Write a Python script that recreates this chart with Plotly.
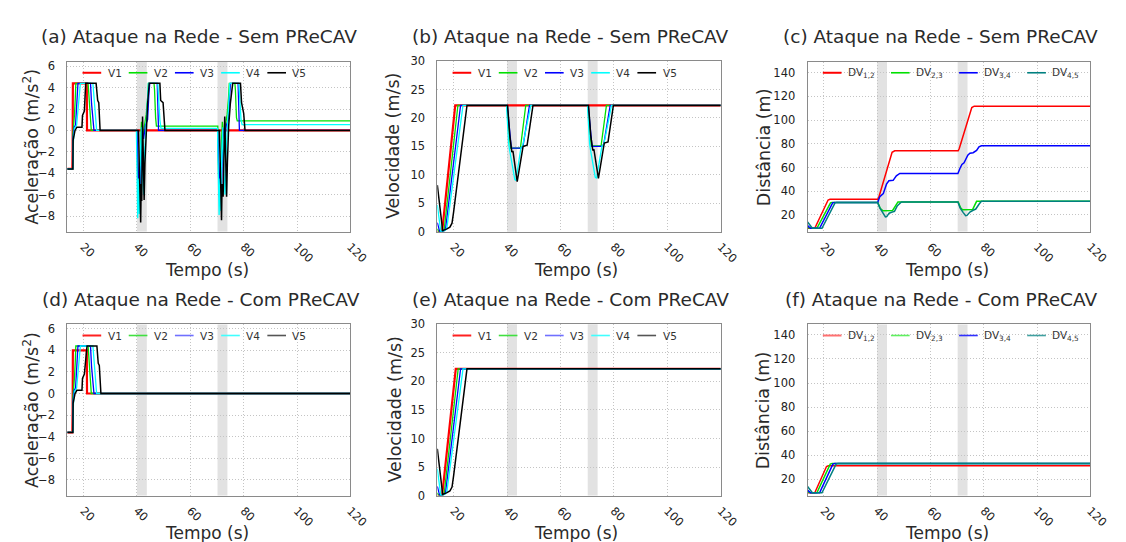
import plotly.graph_objects as go

W, H = 1126, 542

# ---------------- data ----------------
TIME_RANGE = [13.9, 120.0]
TIME_TICKS = [20, 40, 60, 80, 100, 120]
ATTACK_WINDOWS = [[40.0, 43.7], [70.2, 73.9]]

VEHICLES = ["V1", "V2", "V3", "V4", "V5"]
GAPS = ["DV<sub>1,2</sub>", "DV<sub>2,3</sub>", "DV<sub>3,4</sub>", "DV<sub>4,5</sub>"]

PANEL_TITLES = ["(a) Ataque na Rede - Sem PReCAV", "(b) Ataque na Rede - Sem PReCAV",
                "(c) Ataque na Rede - Sem PReCAV", "(d) Ataque na Rede - Com PReCAV",
                "(e) Ataque na Rede - Com PReCAV", "(f) Ataque na Rede - Com PReCAV"]
Y_TITLES = ["Aceleração (m/s<sup>2</sup>)", "Velocidade (m/s)", "Distância (m)"]
X_TITLE = "Tempo (s)"

ACC_TICKS = [-8, -6, -4, -2, 0, 2, 4, 6]
VEL_TICKS = [0, 5, 10, 15, 20, 25, 30]
DIST_TICKS = [20, 40, 60, 80, 100, 120, 140]

# (a) acceleration, without PReCAV
A_SEM_V1_T = [13.9, 15.8, 15.9, 16.0, 21.2, 21.3, 120.0]
A_SEM_V1_A = [-3.6, -3.6, -1.6, 4.4, 4.4, 0.0, 0.0]
A_SEM_V2_T = [13.9, 15.9, 16.0, 16.3, 16.6, 16.9, 17.1, 21.7, 22.3, 22.9,
              40.0, 40.1, 40.4, 40.7, 41.1, 41.4, 41.7, 42.2, 42.8, 43.5, 44.0, 44.3, 46.4, 46.6, 47.0, 47.3,
              70.3, 70.4, 70.7, 71.0, 71.4, 71.7, 72.0, 72.5, 73.1, 73.8, 74.3, 74.6, 76.7, 76.9, 77.3, 77.6, 120.0]
A_SEM_V2_A = [-3.6, -3.6, -0.4, 0.3, 1.5, 3.0, 4.4, 4.4, 2.0, 0.0,
              0.0, -2.0, -5.8, -4.0, -6.0, -1.0, 0.8, -0.5, 0.6, 1.5, 3.0, 4.4, 4.4, 3.8, 1.2, 0.4,
              0.4, -2.0, -5.8, -4.0, -6.0, -1.0, 0.8, -0.5, 0.6, 1.5, 3.0, 4.4, 4.4, 3.8, 1.2, 0.9, 0.9]
A_SEM_V3_T = [13.9, 15.9, 16.1, 16.5, 17.0, 17.3, 17.6, 17.9, 22.6, 23.0, 23.9,
              40.0, 40.2, 40.6, 41.0, 41.4, 41.9, 42.5, 43.2, 44.0, 44.5, 44.8, 47.6, 47.9, 48.1,
              70.3, 70.5, 70.9, 71.3, 71.7, 72.2, 72.8, 73.5, 74.3, 74.8, 75.1, 77.9, 78.2, 78.4, 120.0]
A_SEM_V3_A = [-3.6, -3.6, -0.6, 0.3, 0.5, 2.0, 3.2, 4.4, 4.4, 2.5, 0.0,
              0.0, -1.5, -6.2, -3.0, -5.5, 0.2, -0.8, 0.5, 1.0, 3.5, 4.4, 4.4, 1.0, 0.0,
              0.0, -1.5, -6.2, -3.0, -5.5, 0.2, -0.8, 0.5, 1.0, 3.5, 4.4, 4.4, 1.0, 0.0, 0.0]
A_SEM_V4_T = [13.9, 16.0, 16.2, 16.6, 17.4, 17.8, 18.3, 18.8, 23.5, 24.0, 24.9,
              39.8, 40.0, 40.3, 40.6, 40.9, 41.3, 41.7, 42.0, 42.5, 42.9, 43.4, 43.8, 44.3, 47.8, 48.2, 48.6, 49.0,
              70.2, 70.4, 70.8, 71.1, 71.4, 71.8, 72.2, 72.5, 73.0, 73.4, 73.9, 74.3, 74.8, 78.2, 78.6, 79.0, 79.4, 120.0]
A_SEM_V4_A = [-3.6, -3.6, -1.0, 0.2, 0.5, 1.5, 2.8, 4.4, 4.4, 2.8, 0.0,
              0.0, -3.0, -8.2, -4.5, -7.8, -2.0, 0.3, -4.0, -6.0, -2.0, 0.2, 2.0, 4.4, 4.4, 2.5, 1.0, 0.2,
              0.2, -3.0, -7.9, -4.5, -7.5, -2.0, 0.3, -4.0, -6.0, -2.0, 0.2, 2.0, 4.4, 4.4, 2.5, 1.0, 0.55, 0.55]
A_SEM_V5_T = [13.9, 16.0, 16.1, 16.8, 17.5, 19.4, 19.6, 20.3, 20.8, 24.7, 25.3, 25.7, 26.2,
              40.6, 40.9, 41.4, 41.6, 41.8, 42.1, 42.4, 42.7, 43.0, 43.5, 44.0, 44.6, 48.6, 48.9, 49.8, 50.5,
              70.9, 71.2, 71.7, 71.9, 72.3, 72.9, 73.2, 73.6, 73.9, 74.4, 75.0, 75.9, 78.8, 79.2, 80.0, 80.5, 120.0]
A_SEM_V5_A = [-3.6, -3.6, -0.9, 0.0, 0.3, 0.3, 1.4, 1.8, 4.4, 4.4, 2.8, 2.6, 0.0,
              0.0, -3.5, -8.6, -5.0, -6.6, 1.3, -2.0, -6.5, -3.0, 0.5, 2.5, 4.4, 4.4, 2.8, 2.6, 0.0,
              0.0, -3.0, -8.4, -5.0, -6.2, 1.3, -1.5, -6.2, -3.0, 0.5, 2.5, 4.4, 4.4, 2.6, 1.6, 0.0, 0.0]

# (d) acceleration, with PReCAV
A_COM_V1_T = [13.9, 15.8, 15.9, 16.0, 21.2, 21.3, 120.0]
A_COM_V1_A = [-3.6, -3.6, -1.6, 4.0, 4.0, 0.0, 0.0]
A_COM_V2_T = [13.9, 15.9, 16.0, 16.3, 16.6, 16.9, 17.1, 21.7, 22.3, 22.9, 120.0]
A_COM_V2_A = [-3.6, -3.6, -0.4, 0.3, 1.5, 3.0, 4.4, 4.4, 2.0, 0.0, 0.0]
A_COM_V3_T = [13.9, 15.9, 16.1, 16.5, 17.0, 17.3, 17.6, 17.9, 22.6, 23.0, 23.9, 120.0]
A_COM_V3_A = [-3.6, -3.6, -0.6, 0.3, 0.5, 2.0, 3.2, 4.4, 4.4, 2.5, 0.0, 0.0]
A_COM_V4_T = [13.9, 16.0, 16.2, 16.6, 17.4, 17.8, 18.3, 18.8, 23.5, 24.0, 24.9, 120.0]
A_COM_V4_A = [-3.6, -3.6, -1.0, 0.2, 0.5, 1.5, 2.8, 4.4, 4.4, 2.8, 0.0, 0.0]
A_COM_V5_T = [13.9, 16.0, 16.1, 16.8, 17.5, 19.4, 19.6, 20.3, 21.3, 25.0, 25.5, 25.9, 26.5, 120.0]
A_COM_V5_A = [-3.6, -3.6, -0.9, 0.0, 0.3, 0.3, 1.4, 1.8, 4.4, 4.4, 2.8, 2.6, 0.0, 0.0]

# (b) velocity, without PReCAV
V_SEM_V1_T = [13.9, 15.7, 20.6, 120.0]
V_SEM_V1_V = [0.0, 0.0, 22.2, 22.2]
V_SEM_V2_T = [13.9, 14.5, 16.2, 16.5, 21.6, 40.0, 41.3, 45.0, 47.0, 70.3, 71.5, 75.2, 77.2, 120.0]
V_SEM_V2_V = [0.5, 0.0, 0.1, 0.5, 22.2, 22.2, 14.7, 14.7, 22.2, 22.2, 15.1, 15.1, 22.2, 22.2]
V_SEM_V3_T = [13.9, 14.8, 16.6, 17.0, 22.6, 40.1, 41.6, 45.2, 46.0, 48.4, 70.4, 71.8, 75.5, 76.2, 78.6, 120.0]
V_SEM_V3_V = [1.6, 0.0, 0.2, 0.6, 22.2, 22.2, 14.7, 14.7, 15.1, 22.2, 22.2, 15.0, 15.0, 15.4, 22.2, 22.2]
V_SEM_V4_T = [13.9, 15.2, 17.0, 17.5, 23.5, 39.8, 40.6, 40.9, 42.9, 43.3, 45.2, 45.8, 48.9,
              70.1, 70.9, 71.2, 73.0, 73.5, 75.5, 76.2, 79.1, 120.0]
V_SEM_V4_V = [4.7, 0.0, 0.3, 0.8, 22.2, 22.2, 15.5, 14.5, 9.2, 9.0, 14.8, 15.0, 22.2,
              22.2, 15.5, 14.5, 9.6, 9.4, 15.0, 15.3, 22.2, 22.2]
V_SEM_V5_T = [13.9, 15.9, 17.5, 18.6, 19.4, 20.0, 25.0, 40.2, 41.0, 41.8, 42.2, 43.8, 46.0, 47.5, 49.7,
              70.5, 71.3, 72.1, 72.5, 74.2, 76.4, 77.8, 79.8, 120.0]
V_SEM_V5_V = [8.2, 0.2, 0.5, 0.8, 1.5, 3.5, 22.2, 22.2, 17.0, 14.0, 14.2, 8.8, 15.0, 15.2, 22.2,
              22.2, 17.0, 14.3, 14.5, 9.4, 15.6, 15.8, 22.2, 22.2]

# (e) velocity, with PReCAV
V_COM_V1_T = [13.9, 15.7, 20.8, 120.0]
V_COM_V1_V = [0.0, 0.0, 22.2, 22.2]
V_COM_V2_T = [13.9, 14.5, 16.2, 16.5, 21.7, 120.0]
V_COM_V2_V = [0.5, 0.0, 0.1, 0.5, 22.2, 22.2]
V_COM_V3_T = [13.9, 14.8, 16.6, 17.0, 22.6, 120.0]
V_COM_V3_V = [1.6, 0.0, 0.2, 0.6, 22.2, 22.2]
V_COM_V4_T = [13.9, 15.2, 17.0, 17.5, 23.5, 120.0]
V_COM_V4_V = [4.7, 0.0, 0.3, 0.8, 22.2, 22.2]
V_COM_V5_T = [13.9, 15.9, 17.5, 18.6, 19.4, 20.0, 25.0, 120.0]
V_COM_V5_V = [8.2, 0.2, 0.5, 0.8, 1.5, 3.5, 22.2, 22.2]

# (c) inter-vehicle distance, without PReCAV
D_SEM_12_T = [13.9, 16.6, 21.6, 22.3, 40.2, 40.6, 45.6, 46.6, 70.4, 70.8, 75.5, 76.4, 120.0]
D_SEM_12_D = [8.8, 8.8, 32.6, 33.2, 33.2, 34.8, 72.8, 74.1, 74.1, 76.0, 110.6, 111.8, 111.8]
D_SEM_23_T = [13.9, 15.0, 17.4, 22.5, 23.1, 40.2, 41.2, 42.2, 45.8, 47.8, 70.4, 71.3, 72.0, 75.8, 77.3, 120.0]
D_SEM_23_D = [9.5, 8.8, 8.8, 30.2, 30.6, 30.6, 25.5, 23.5, 23.8, 31.0, 31.0, 26.0, 24.3, 24.5, 31.5, 31.5]
D_SEM_34_T = [13.9, 15.0, 18.4, 23.3, 23.9, 40.2, 41.0, 42.3, 43.5, 44.4, 46.0, 47.2, 48.5,
              70.3, 71.0, 71.8, 72.6, 74.0, 74.8, 76.0, 77.3, 78.2, 79.1, 120.0]
D_SEM_34_D = [11.0, 8.8, 8.8, 30.2, 30.6, 30.6, 35.5, 38.0, 46.0, 48.9, 49.2, 53.0, 55.0,
              55.0, 59.0, 62.6, 64.0, 70.5, 72.1, 72.5, 74.5, 77.5, 78.4, 78.4]
D_SEM_45_T = [13.9, 15.7, 19.3, 24.2, 24.8, 40.2, 41.0, 42.3, 43.1, 43.6, 44.5, 45.4, 46.5, 47.5, 49.1,
              70.3, 71.1, 72.3, 73.2, 73.7, 74.8, 76.0, 77.0, 78.2, 79.1, 120.0]
D_SEM_45_D = [14.0, 8.8, 8.8, 30.2, 30.6, 30.6, 26.0, 21.0, 18.4, 18.6, 21.5, 22.3, 23.0, 27.5, 31.0,
              31.0, 26.0, 22.0, 19.4, 19.6, 22.5, 24.0, 25.0, 29.0, 31.5, 31.5]

# (f) inter-vehicle distance, with PReCAV
D_COM_12_T = [13.9, 16.6, 21.0, 21.7, 120.0]
D_COM_12_D = [8.8, 8.8, 30.6, 31.2, 31.2]
D_COM_23_T = [13.9, 15.0, 17.4, 22.4, 23.1, 120.0]
D_COM_23_D = [9.5, 8.8, 8.8, 32.6, 33.2, 33.2]
D_COM_34_T = [13.9, 15.0, 18.4, 23.4, 24.1, 120.0]
D_COM_34_D = [11.0, 8.8, 8.8, 32.6, 33.2, 33.2]
D_COM_45_T = [13.9, 15.7, 19.3, 24.6, 25.3, 120.0]
D_COM_45_D = [14.0, 8.8, 8.8, 32.6, 33.2, 33.2]

# ---------------- styles ----------------
FONT = "DejaVu Sans"
VEH_COLORS = ["#ff0000", "#00e000", "#0000ff", "#00ffff", "#000000"]
VEH_WIDTHS = [2.2, 1.3, 1.3, 1.3, 1.5]
GAP_COLORS = ["#ff0000", "#00e000", "#0000ff", "#008080"]
GAP_WIDTHS = [1.5, 1.5, 1.5, 1.5]
LEG_COLORS_BOTTOM = ["#ff2020", "#40e040", "#7070ff", "#40ffff", "#555555"]
GAP_LEG_COLORS_BOTTOM = ["#ff7070", "#60f060", "#3030ff", "#40a0a0"]

# panel geometry in pixels: x0, x1, y0(top), y1(bottom)
PANELS = [
    dict(x0=60.3, x1=348.3, y0=48.3, y1=222.3),
    dict(x0=436.7, x1=725.0, y0=47.3, y1=222.5),
    dict(x0=813.3, x1=1101.0, y0=48.3, y1=222.3),
    dict(x0=60.3, x1=348.3, y0=317.7, y1=493.3),
    dict(x0=436.7, x1=725.0, y0=317.5, y1=493.3),
    dict(x0=813.3, x1=1101.0, y0=317.7, y1=493.3),
]
Y_RANGES = [[-9.45, 6.39], [0, 30], [6.0, 149.0], [-9.45, 6.39], [0, 30], [6.5, 148.6]]
Y_TICKS = [ACC_TICKS, VEL_TICKS, DIST_TICKS, ACC_TICKS, VEL_TICKS, DIST_TICKS]
TITLE_POS = [(194, 21.7), (572, 21.7), (948, 21.7), (196, 292.3), (572, 292.3), (949, 292.3)]
XTITLE_POS = [(202.5, 262), (578, 262), (955, 262), (202.5, 531.7), (578, 531.7), (955, 531.7)]
YTITLE_X = [23.3, 392.3, 768.3, 23.3, 393.3, 768.3]
LEGEND_Y = [59.3, 59.3, 59.3, 329, 329, 329]


def px(x):
    return x / W


def py(y):
    return 1 - y / H


series = [
    [(A_SEM_V1_T, A_SEM_V1_A), (A_SEM_V2_T, A_SEM_V2_A), (A_SEM_V3_T, A_SEM_V3_A),
     (A_SEM_V4_T, A_SEM_V4_A), (A_SEM_V5_T, A_SEM_V5_A)],
    [(V_SEM_V1_T, V_SEM_V1_V), (V_SEM_V2_T, V_SEM_V2_V), (V_SEM_V3_T, V_SEM_V3_V),
     (V_SEM_V4_T, V_SEM_V4_V), (V_SEM_V5_T, V_SEM_V5_V)],
    [(D_SEM_12_T, D_SEM_12_D), (D_SEM_23_T, D_SEM_23_D), (D_SEM_34_T, D_SEM_34_D),
     (D_SEM_45_T, D_SEM_45_D)],
    [(A_COM_V1_T, A_COM_V1_A), (A_COM_V2_T, A_COM_V2_A), (A_COM_V3_T, A_COM_V3_A),
     (A_COM_V4_T, A_COM_V4_A), (A_COM_V5_T, A_COM_V5_A)],
    [(V_COM_V1_T, V_COM_V1_V), (V_COM_V2_T, V_COM_V2_V), (V_COM_V3_T, V_COM_V3_V),
     (V_COM_V4_T, V_COM_V4_V), (V_COM_V5_T, V_COM_V5_V)],
    [(D_COM_12_T, D_COM_12_D), (D_COM_23_T, D_COM_23_D), (D_COM_34_T, D_COM_34_D),
     (D_COM_45_T, D_COM_45_D)],
]

fig = go.Figure()
shapes = []
annotations = []
layout_axes = {}

for k in range(6):
    idx = "" if k == 0 else str(k + 1)
    xa, ya = "x" + idx, "y" + idx
    p = PANELS[k]
    is_dist = (k % 3 == 2)
    names = GAPS if is_dist else VEHICLES
    colors = GAP_COLORS if is_dist else VEH_COLORS
    widths = GAP_WIDTHS if is_dist else VEH_WIDTHS
    if k >= 3:
        leg_colors = GAP_LEG_COLORS_BOTTOM if is_dist else LEG_COLORS_BOTTOM
    else:
        leg_colors = colors

    for i, (t, v) in enumerate(series[k]):
        fig.add_trace(go.Scatter(x=t, y=v, mode="lines", name=names[i], showlegend=False,
                                 line=dict(color=colors[i], width=widths[i]),
                                 xaxis=xa, yaxis=ya, hoverinfo="skip"))

    layout_axes["xaxis" + idx] = dict(
        domain=[px(p["x0"]), px(p["x1"])], anchor=ya, range=TIME_RANGE,
        tickvals=TIME_TICKS, tickangle=45, ticks="", ticklabelstandoff=3,
        showline=True, mirror=True, linecolor="#8a8a8a", linewidth=1,
        showgrid=True, gridcolor="#c4c4c4", griddash="1px,2px", gridwidth=1, zeroline=False,
        tickfont=dict(family=FONT, size=11.5, color="#222"))
    layout_axes["yaxis" + idx] = dict(
        domain=[py(p["y1"]), py(p["y0"])], anchor=xa, range=Y_RANGES[k],
        tickvals=Y_TICKS[k], ticks="", ticklabelstandoff=9,
        showline=True, mirror=True, linecolor="#8a8a8a", linewidth=1,
        showgrid=True, gridcolor="#c4c4c4", griddash="1px,2px", gridwidth=1, zeroline=False,
        tickfont=dict(family=FONT, size=11.5, color="#222"))

    for w0, w1 in ATTACK_WINDOWS:
        shapes.append(dict(type="rect", xref=xa, yref=ya + " domain", x0=w0, x1=w1, y0=0, y1=1,
                           fillcolor="#e2e2e2", line=dict(width=0), layer="below"))

    # titles
    tx, ty = TITLE_POS[k]
    annotations.append(dict(text=PANEL_TITLES[k], x=px(tx), y=py(ty), xref="paper", yref="paper",
                            showarrow=False, xanchor="center", yanchor="middle",
                            font=dict(family=FONT, size=18.5, color="#2a2a2a")))
    xx, xy = XTITLE_POS[k]
    annotations.append(dict(text=X_TITLE, x=px(xx), y=py(xy), xref="paper", yref="paper",
                            showarrow=False, xanchor="center", yanchor="middle",
                            font=dict(family=FONT, size=17, color="#2a2a2a")))
    annotations.append(dict(text=Y_TITLES[k % 3], x=px(YTITLE_X[k]), y=py((p["y0"] + p["y1"]) / 2),
                            xref="paper", yref="paper", showarrow=False, textangle=-90,
                            xanchor="center", yanchor="middle",
                            font=dict(family=FONT, size=17.5, color="#2a2a2a")))

    # in-plot legend
    pitch = 69.3 if is_dist else 47.0
    ly = LEGEND_Y[k]
    for i, nm in enumerate(names):
        lx = p["x0"] + 15.5 + i * pitch
        shapes.append(dict(type="line", xref="paper", yref="paper",
                           x0=px(lx), x1=px(lx + 19), y0=py(ly), y1=py(ly),
                           line=dict(color=leg_colors[i], width=2 if i == 0 else 1.6)))
        annotations.append(dict(text=nm, x=px(lx + 23.5), y=py(ly), xref="paper", yref="paper",
                                showarrow=False, xanchor="left", yanchor="middle",
                                font=dict(family=FONT, size=10.5, color="#333")))

fig.update_layout(
    width=W, height=H, margin=dict(l=0, r=0, t=0, b=0),
    paper_bgcolor="white", plot_bgcolor="white", showlegend=False,
    shapes=shapes, annotations=annotations, **layout_axes)

fig.write_html("out.html")
